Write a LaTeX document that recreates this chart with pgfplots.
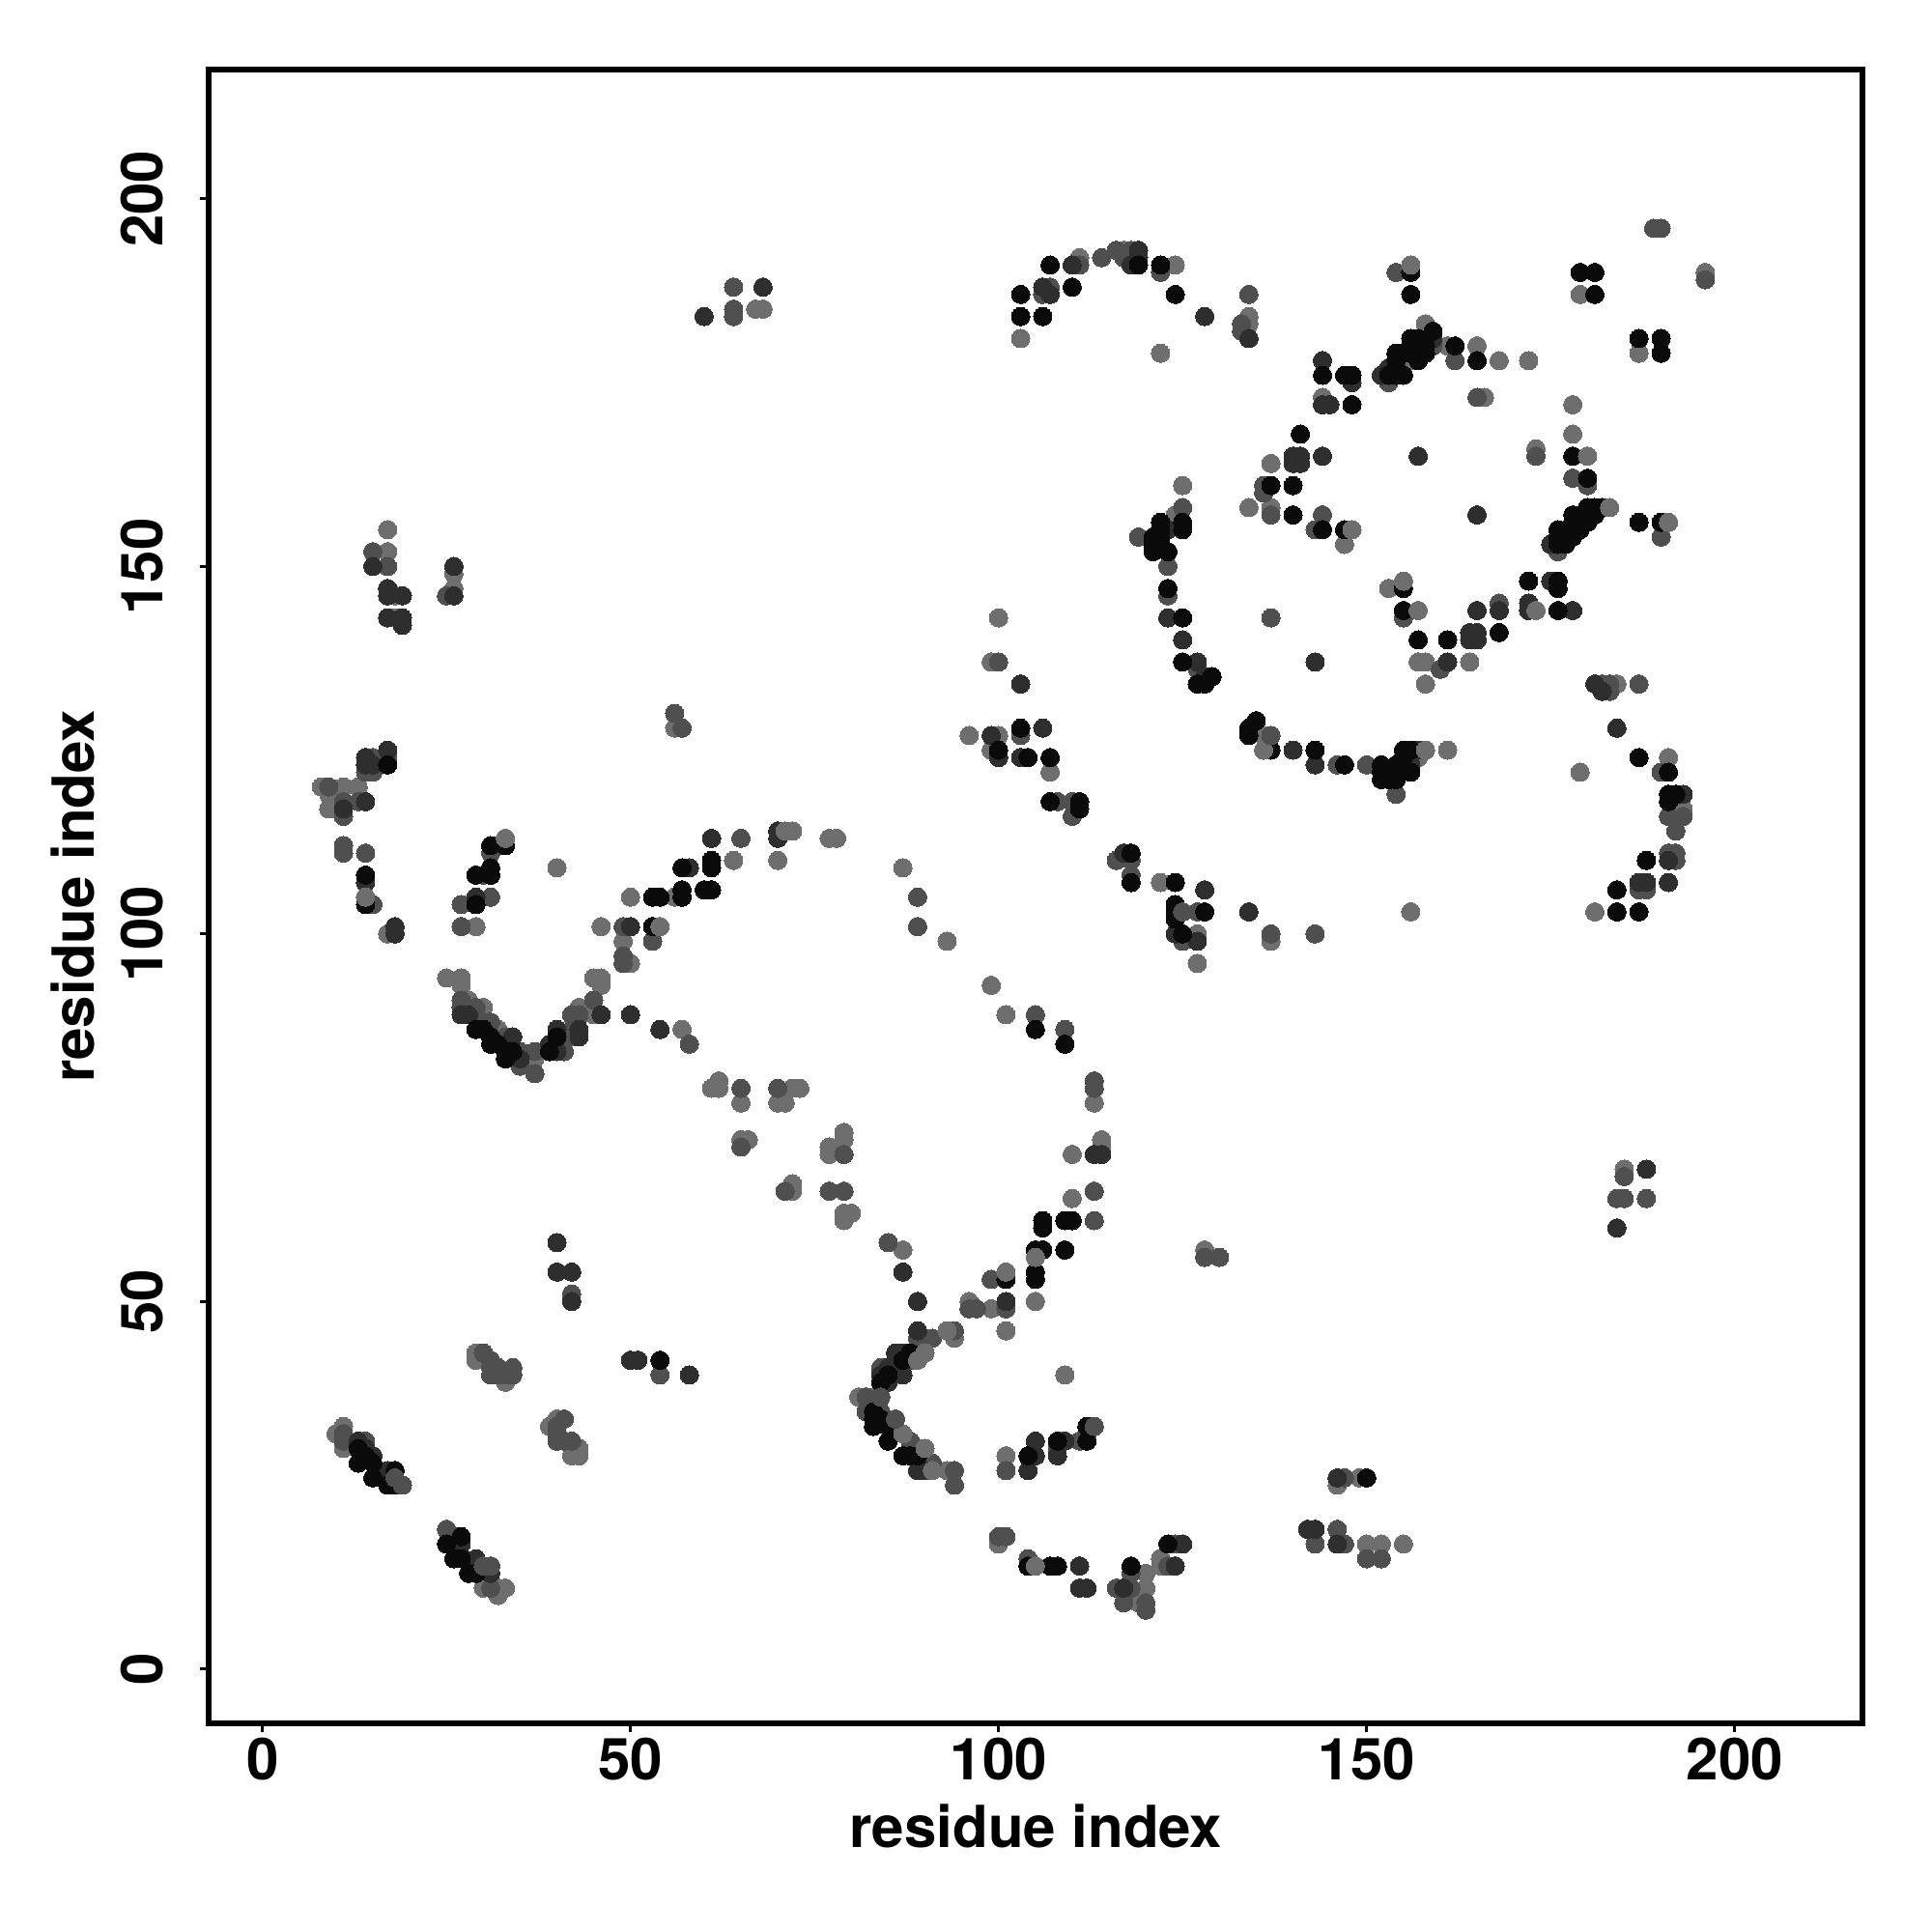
\documentclass[border=0pt]{standalone}
\usepackage{pgfplots}
\pgfplotsset{compat=1.18}
\usepackage{fontspec}
\setmainfont{TeX Gyre Heros}
\definecolor{ck}{HTML}{0A0A0A}
\definecolor{cd}{HTML}{2E2E2E}
\definecolor{cm}{HTML}{4F4F4F}
\definecolor{cg}{HTML}{6E6E6E}
\begin{document}
\begin{tikzpicture}
\path[use as bounding box] (0,0) rectangle (500pt,500pt);
\begin{axis}[
  at={(54.08pt,54pt)}, anchor=south west,
  scale only axis, width=428pt, height=428pt,
  xmin=-7.27, xmax=217.4, ymin=-7.4, ymax=217.6,
  xtick={0,50,100,150,200}, ytick={0,50,100,150,200},
  tick align=outside, tick pos=left,
  axis line style={line width=1.5pt, black},
  major tick length=2.3pt,
  every tick/.style={line width=0.7pt, black},
  /pgf/number format/assume math mode=true,
  tick label style={font=\fontsize{15}{15}\selectfont\bfseries},
  yticklabel style={rotate=90, anchor=south, yshift=5.9pt},
  xticklabel style={anchor=north, yshift=2pt},
  xlabel={residue index}, ylabel={residue index},
  label style={font=\fontsize{15}{16}\selectfont\bfseries},
  xlabel style={at={(axis description cs:0.5,0)}, anchor=north, yshift=-17.5pt},
  ylabel style={at={(axis description cs:0,0.5)}, anchor=south, yshift=26pt},
]
% grey under the diagonal runs
\addplot[only marks, mark=*, mark size=2.375pt, mark options={draw=cg, fill=cg, line width=0pt}] coordinates {
(124,191)(122,179)(134,184)(134,183)(144,173)(137,164)(125,161)(124,157)(157,137)(158,137)(164,137)(158,134)(157,144)(153,147)(155,148)(173,144)(183,158)(191,156)
(180,165)(178,168)(178,172)(173,166)(166,173)(148,155)(147,153)(137,158)(134,158)(161,180)(165,180)(168,178)(172,178)(156,191)(179,187)(187,179)(196,190)(158,183)(156,178)
(100,143)(99,137)(96,127)(100,127)(99,125)(107,122)(122,107)(127,96)(137,99)(156,103)(143,100)(93,99)(99,93)(101,89)
(181,103)(193,117)(191,124)(179,122)(184,134)(136,127)(136,125)(158,125)(161,125)(157,124)(127,100)
(17,152)(17,155)(26,149)(26,147)(18,146)(18,143)(56,128)(8,120)(11,120)(13,120)(9,119)(9,117)(10,117)(14,105)(17,100)(33,113)(29,101)(27,101)(40,109)
(71,114)(72,114)(64,110)(70,110)(50,105)(56,105)(46,101)(54,101)(49,99)(50,96)(77,113)(78,113)(87,109)(89,101)
(25,94)(27,94)(27,93)(28,91)(30,90)(32,87)(37,83)(43,90)(45,89)(45,94)(46,94)(46,93)(57,87)
(61,79)(62,80)(62,79)(65,77)(72,79)(73,79)(70,77)(71,77)(65,72)(66,72)(79,73)(79,72)(77,71)(77,70)(72,66)(72,65)(79,62)(80,62)(79,61)(113,77)(114,72)(114,71)(110,70)(110,64)
(87,57)(105,56)(105,50)(101,54)(96,50)(99,49)(109,40)(101,46)
(90,45)(93,46)(94,45)(90,43)(89,42)(81,37)(83,37)(87,32)(89,30)(90,30)(91,27)(93,27)(101,29)(100,17)(105,14)(120,13)(120,11)(119,9)(118,10)(122,15)(122,14)
(29,43)(29,42)(33,39)(39,33)(40,34)(42,29)(43,30)(43,29)(10,32)(11,33)(11,30)(30,11)(32,10)(33,11)(32,11)
(146,25)(149,26)(150,17)(152,17)(155,17)(67,185)(68,185)(103,181)(111,192)(117,193)(124,191)(185,68)(128,57)
};
% medium
\addplot[only marks, mark=*, mark size=2.375pt, mark options={draw=cm, fill=cm, line width=0pt}] coordinates {
(189,196)(122,190)(133,183)(133,182)(134,187)(136,161)(136,160)(125,158)(119,154)(123,150)(123,146)(127,136)(137,143)(160,136)(155,143)(168,145)
(190,154)(178,162)(180,161)(176,152)(173,165)(165,173)(144,157)(143,155)(137,157)(162,178)(154,190)(153,175)(159,180)
(100,137)(99,127)(103,127)(108,118)(110,118)(110,116)(116,110)(118,110)(118,108)(125,103)(127,103)(125,99)(137,100)(143,100)(89,101)(89,105)
(187,106)(188,106)(191,111)(192,111)(192,110)(192,114)(191,116)(193,116)(190,122)(182,134)(183,134)(187,134)(183,133)(137,127)(146,123)(150,123)(154,119)
(15,152)(17,150)(25,146)(19,146)(56,130)(57,128)(17,124)(15,124)(14,122)(15,122)(9,120)(11,118)(13,118)(11,116)(11,112)(11,111)(14,111)(15,104)(27,104)
(32,112)(30,108)(31,111)(31,105)(27,101)(65,113)(49,101)(53,99)(49,97)(49,96)(105,89)(109,87)(58,85)
(113,80)(113,79)(65,71)(79,70)(71,65)(77,65)(79,65)(65,79)(70,79)(113,65)(113,61)(85,58)(99,53)(101,49)(96,49)(97,49)
(27,91)(27,90)(29,90)(30,88)(31,88)(33,86)(35,84)(35,82)(37,84)(37,81)(41,84)(42,86)(42,89)(43,89)(45,91)(42,87)
(42,51)(89,45)(91,45)(94,46)(88,42)(84,41)(82,37)(84,37)(82,35)(84,35)(88,31)(91,28)(94,27)(94,25)(101,27)(108,30)(111,31)(112,32)(113,33)(100,18)(101,18)(104,15)
(116,11)(118,13)(118,11)(117,9)(120,9)(120,8)(124,17)(123,14)(54,40)(40,54)
(31,42)(31,41)(30,43)(32,41)(31,40)(34,41)(32,40)(34,40)(33,40)(41,34)(40,32)(40,31)(41,31)(42,31)(40,33)
(11,32)(11,31)(14,31)(19,25)(18,26)(25,19)(26,18)(30,14)(31,14)(31,11)
(143,17)(146,19)(147,17)(147,26)(150,15)(152,15)(64,188)(64,185)(64,184)(106,187)(107,188)(111,191)(114,192)(116,193)(117,192)(118,193)(122,190)
(185,64)(184,64)(185,67)(188,64)(128,56)(130,56)(196,189)(190,196)
};
% dark
\addplot[only marks, mark=*, mark size=2.375pt, mark options={draw=cd, fill=cd, line width=0pt}] coordinates {
(128,184)(134,181)(144,178)(148,175)(144,172)(145,172)(140,165)(141,165)(140,164)(141,164)(144,165)(123,155)(175,153)
(123,143)(125,140)(127,137)(128,135)(143,137)(161,137)(164,141)(165,141)(164,140)(165,140)(165,144)(168,144)(172,145)(172,144)(178,144)
(175,148)(157,165)(165,157)(159,181)(153,177)(152,176)
(103,134)(99,127)(106,128)(100,124)(103,124)(117,111)(128,106)(134,103)(124,100)(127,99)
(187,107)(188,107)(191,107)(191,110)(193,119)(184,128)(181,134)(182,133)(137,127)(140,125)(143,123)(156,123)(157,125)
(15,150)(17,147)(17,146)(19,146)(17,143)(19,143)(19,142)(26,150)(26,146)(17,125)(14,124)(14,123)(15,123)(14,118)(11,117)(14,107)(18,101)(18,100)
(29,105)(70,114)(70,113)(61,113)(58,109)(50,101)(46,89)(50,89)(54,87)(113,70)(114,70)
(27,89)(28,89)(34,86)(35,83)(39,85)(40,87)(40,84)(43,86)(43,87)(87,54)(89,50)(89,46)(86,43)(87,43)(86,42)(85,41)(86,41)(84,40)(87,40)(85,39)
(86,34)(89,27)(90,27)(101,50)(105,29)(104,27)(105,31)(109,31)(108,29)(111,14)(111,11)(112,11)(117,11)(124,14)(125,17)
(40,58)(40,54)(42,54)(42,50)(50,42)(51,42)(58,40)(13,31)(14,30)(15,29)(17,27)(27,17)(29,15)(31,13)
(142,19)(143,19)(146,17)(146,26)(60,184)(68,188)(106,188)(107,187)(110,191)(118,191)(119,193)(119,192)(188,68)(184,60)
};
% black
\addplot[only marks, mark=*, mark size=2.375pt, mark options={draw=ck, fill=ck, line width=0pt}] coordinates {
(122,191)(124,187)(156,190)(156,187)(179,190)(181,190)(181,187)(187,181)(190,181)(190,179)
(144,176)(147,176)(148,176)(148,172)(141,168)(137,161)(140,161)(125,156)(125,155)(122,156)(122,155)
(121,154)(121,153)(122,153)(123,152)(121,152)(122,154)(123,147)(125,143)(125,137)(129,135)(127,134)(128,134)
(157,140)(161,140)(168,141)(155,144)(155,147)(176,144)(172,148)(176,148)(176,147)(176,153)(177,153)(176,154)(177,154)(178,154)
(176,155)(178,155)(179,155)(178,156)(180,156)(178,157)(179,157)(180,157)(181,157)(180,158)(181,158)(182,158)
(187,156)(190,156)(178,165)(180,162)(140,157)(144,155)(147,155)(162,180)(165,178)(159,182)(156,181)(157,181)
(156,180)(157,180)(158,180)(155,179)(156,179)(157,179)(158,179)(154,179)(157,178)(154,178)(154,177)(155,176)(153,176)(154,176)
(125,143)(107,124)(104,124)(103,128)(100,125)(107,118)(111,118)(111,117)(118,111)(118,107)(124,107)(124,104)(124,103)(124,102)(128,103)(125,100)
(184,103)(187,103)(184,106)(188,110)(191,118)(191,119)(192,119)(191,122)(187,124)
(135,129)(134,128)(134,127)(137,125)(143,125)(147,123)(152,123)(152,122)(152,121)(153,122)(153,121)(154,121)(154,123)(155,125)(156,125)(155,124)(156,122)
(17,123)(14,108)(14,104)(33,112)(31,112)(29,108)(31,109)(31,108)(29,104)
(61,110)(61,109)(57,109)(57,106)(57,105)(60,106)(61,106)(53,105)(54,105)(53,101)
(105,87)(109,85)(106,61)(106,60)(109,61)(110,61)(109,57)(105,57)(106,57)(105,54)(105,53)(101,53)
(29,87)(30,87)(31,85)(31,86)(32,85)(33,84)(33,83)(34,84)(39,84)(40,86)
(88,43)(87,42)(85,40)(84,39)(83,35)(83,34)(83,33)(84,34)(85,33)(85,31)(87,29)(88,29)(89,29)
(104,29)(108,31)(112,31)(112,33)(104,14)(107,14)(108,14)(118,14)(123,17)
(54,42)(13,30)(13,28)(14,29)(15,28)(15,26)(18,27)(17,25)(18,25)(25,17)(27,18)(26,15)(27,15)(28,13)(29,13)
(150,26)(103,187)(103,184)(106,184)(107,191)(110,188)(119,191)
};
% light marks that lie over black ones in the reference
\addplot[only marks, mark=*, mark size=2.375pt, mark options={draw=cg, fill=cg, line width=0pt}] coordinates {
(156,191)(191,156)(183,158)(148,155)(180,165)(155,148)(157,144)(173,144)(158,125)(136,125)(14,105)(33,113)(72,114)(71,114)(54,101)
(87,32)(90,30)(91,27)(90,43)(89,42)(93,46)(101,54)(105,56)(113,33)(105,14)
};
\addplot[only marks, mark=*, mark size=2.375pt, mark options={draw=cm, fill=cm, line width=0pt}] coordinates {
(19,25)(18,26)(31,14)(30,14)(113,33)(125,103)(137,127)(84,37)(86,34)
};
\end{axis}
\end{tikzpicture}
\end{document}
